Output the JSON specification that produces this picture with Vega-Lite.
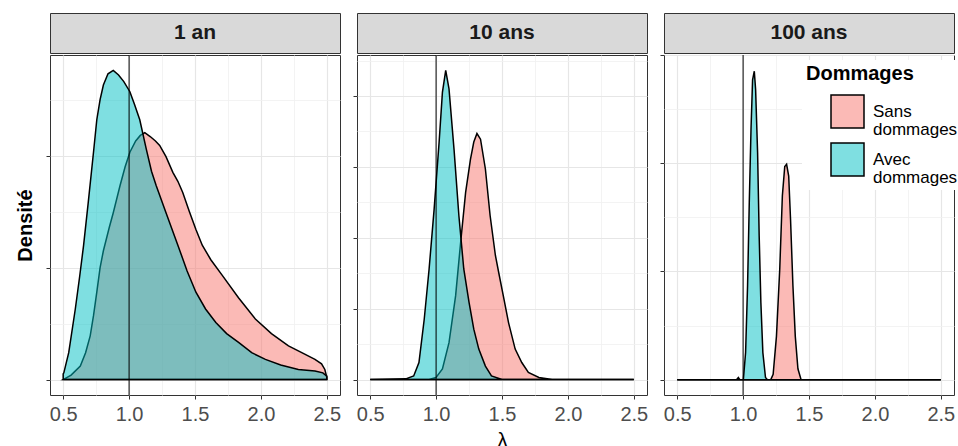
{
  "$schema": "https://vega.github.io/schema/vega-lite/v6.json",
  "background": "white",
  "padding": {"left": 15, "top": 12, "right": 0, "bottom": 0},
  "autosize": {"type": "pad"},
  "spacing": 10,
  "config": {
    "font": "Liberation Sans",
    "view": {"stroke": "#333333", "strokeWidth": 1},
    "axis": {
      "domain": false,
      "tickColor": "#333333",
      "tickSize": 4,
      "labelFont": "Liberation Sans",
      "labelFontSize": 20,
      "labelColor": "#4d4d4d",
      "titleFont": "Liberation Sans",
      "titleFontSize": 20,
      "titleFontWeight": "bold",
      "titleColor": "black",
      "gridColor": "#ebebeb"
    }
  },
  "datasets": {
    "dens": [
      {"panel":"1 an","Dommages":"Avec dommages","x":0.5,"y":0.05},
      {"panel":"1 an","Dommages":"Avec dommages","x":0.505,"y":0.06},
      {"panel":"1 an","Dommages":"Avec dommages","x":0.542,"y":0.24},
      {"panel":"1 an","Dommages":"Avec dommages","x":0.592,"y":0.63},
      {"panel":"1 an","Dommages":"Avec dommages","x":0.625,"y":0.92},
      {"panel":"1 an","Dommages":"Avec dommages","x":0.655,"y":1.2},
      {"panel":"1 an","Dommages":"Avec dommages","x":0.69,"y":1.58},
      {"panel":"1 an","Dommages":"Avec dommages","x":0.73,"y":2.03},
      {"panel":"1 an","Dommages":"Avec dommages","x":0.755,"y":2.32},
      {"panel":"1 an","Dommages":"Avec dommages","x":0.78,"y":2.5},
      {"panel":"1 an","Dommages":"Avec dommages","x":0.805,"y":2.63},
      {"panel":"1 an","Dommages":"Avec dommages","x":0.84,"y":2.73},
      {"panel":"1 an","Dommages":"Avec dommages","x":0.88,"y":2.76},
      {"panel":"1 an","Dommages":"Avec dommages","x":0.92,"y":2.72},
      {"panel":"1 an","Dommages":"Avec dommages","x":0.96,"y":2.66},
      {"panel":"1 an","Dommages":"Avec dommages","x":1.006,"y":2.57},
      {"panel":"1 an","Dommages":"Avec dommages","x":1.04,"y":2.46},
      {"panel":"1 an","Dommages":"Avec dommages","x":1.081,"y":2.32},
      {"panel":"1 an","Dommages":"Avec dommages","x":1.13,"y":2.06},
      {"panel":"1 an","Dommages":"Avec dommages","x":1.17,"y":1.86},
      {"panel":"1 an","Dommages":"Avec dommages","x":1.206,"y":1.73},
      {"panel":"1 an","Dommages":"Avec dommages","x":1.28,"y":1.49},
      {"panel":"1 an","Dommages":"Avec dommages","x":1.37,"y":1.2},
      {"panel":"1 an","Dommages":"Avec dommages","x":1.44,"y":0.97},
      {"panel":"1 an","Dommages":"Avec dommages","x":1.507,"y":0.78},
      {"panel":"1 an","Dommages":"Avec dommages","x":1.58,"y":0.63},
      {"panel":"1 an","Dommages":"Avec dommages","x":1.658,"y":0.51},
      {"panel":"1 an","Dommages":"Avec dommages","x":1.74,"y":0.41},
      {"panel":"1 an","Dommages":"Avec dommages","x":1.833,"y":0.33},
      {"panel":"1 an","Dommages":"Avec dommages","x":1.93,"y":0.24},
      {"panel":"1 an","Dommages":"Avec dommages","x":2.034,"y":0.18},
      {"panel":"1 an","Dommages":"Avec dommages","x":2.15,"y":0.13},
      {"panel":"1 an","Dommages":"Avec dommages","x":2.284,"y":0.09},
      {"panel":"1 an","Dommages":"Avec dommages","x":2.41,"y":0.077},
      {"panel":"1 an","Dommages":"Avec dommages","x":2.47,"y":0.06},
      {"panel":"1 an","Dommages":"Avec dommages","x":2.5,"y":0.03},
      {"panel":"1 an","Dommages":"Sans dommages","x":0.5,"y":0},
      {"panel":"1 an","Dommages":"Sans dommages","x":0.56,"y":0.04},
      {"panel":"1 an","Dommages":"Sans dommages","x":0.63,"y":0.12},
      {"panel":"1 an","Dommages":"Sans dommages","x":0.67,"y":0.24},
      {"panel":"1 an","Dommages":"Sans dommages","x":0.705,"y":0.39},
      {"panel":"1 an","Dommages":"Sans dommages","x":0.73,"y":0.57},
      {"panel":"1 an","Dommages":"Sans dommages","x":0.755,"y":0.78},
      {"panel":"1 an","Dommages":"Sans dommages","x":0.78,"y":1.0},
      {"panel":"1 an","Dommages":"Sans dommages","x":0.805,"y":1.15},
      {"panel":"1 an","Dommages":"Sans dommages","x":0.85,"y":1.36},
      {"panel":"1 an","Dommages":"Sans dommages","x":0.88,"y":1.49},
      {"panel":"1 an","Dommages":"Sans dommages","x":0.931,"y":1.73},
      {"panel":"1 an","Dommages":"Sans dommages","x":0.97,"y":1.9},
      {"panel":"1 an","Dommages":"Sans dommages","x":1.006,"y":2.03},
      {"panel":"1 an","Dommages":"Sans dommages","x":1.05,"y":2.13},
      {"panel":"1 an","Dommages":"Sans dommages","x":1.085,"y":2.18},
      {"panel":"1 an","Dommages":"Sans dommages","x":1.119,"y":2.205},
      {"panel":"1 an","Dommages":"Sans dommages","x":1.16,"y":2.17},
      {"panel":"1 an","Dommages":"Sans dommages","x":1.2,"y":2.13},
      {"panel":"1 an","Dommages":"Sans dommages","x":1.232,"y":2.09},
      {"panel":"1 an","Dommages":"Sans dommages","x":1.28,"y":1.99},
      {"panel":"1 an","Dommages":"Sans dommages","x":1.332,"y":1.85},
      {"panel":"1 an","Dommages":"Sans dommages","x":1.37,"y":1.77},
      {"panel":"1 an","Dommages":"Sans dommages","x":1.407,"y":1.67},
      {"panel":"1 an","Dommages":"Sans dommages","x":1.457,"y":1.5},
      {"panel":"1 an","Dommages":"Sans dommages","x":1.507,"y":1.34},
      {"panel":"1 an","Dommages":"Sans dommages","x":1.555,"y":1.2},
      {"panel":"1 an","Dommages":"Sans dommages","x":1.62,"y":1.07},
      {"panel":"1 an","Dommages":"Sans dommages","x":1.707,"y":0.93},
      {"panel":"1 an","Dommages":"Sans dommages","x":1.83,"y":0.73},
      {"panel":"1 an","Dommages":"Sans dommages","x":1.958,"y":0.54},
      {"panel":"1 an","Dommages":"Sans dommages","x":2.08,"y":0.41},
      {"panel":"1 an","Dommages":"Sans dommages","x":2.209,"y":0.3},
      {"panel":"1 an","Dommages":"Sans dommages","x":2.31,"y":0.24},
      {"panel":"1 an","Dommages":"Sans dommages","x":2.41,"y":0.18},
      {"panel":"1 an","Dommages":"Sans dommages","x":2.46,"y":0.14},
      {"panel":"1 an","Dommages":"Sans dommages","x":2.485,"y":0.09},
      {"panel":"1 an","Dommages":"Sans dommages","x":2.5,"y":0.02},

      {"panel":"10 ans","Dommages":"Avec dommages","x":0.5,"y":0},
      {"panel":"10 ans","Dommages":"Avec dommages","x":0.77,"y":0.01},
      {"panel":"10 ans","Dommages":"Avec dommages","x":0.83,"y":0.05},
      {"panel":"10 ans","Dommages":"Avec dommages","x":0.87,"y":0.24},
      {"panel":"10 ans","Dommages":"Avec dommages","x":0.91,"y":0.85},
      {"panel":"10 ans","Dommages":"Avec dommages","x":0.947,"y":1.56},
      {"panel":"10 ans","Dommages":"Avec dommages","x":0.985,"y":2.4},
      {"panel":"10 ans","Dommages":"Avec dommages","x":1.023,"y":3.35},
      {"panel":"10 ans","Dommages":"Avec dommages","x":1.048,"y":4.05},
      {"panel":"10 ans","Dommages":"Avec dommages","x":1.073,"y":4.36},
      {"panel":"10 ans","Dommages":"Avec dommages","x":1.098,"y":4.1},
      {"panel":"10 ans","Dommages":"Avec dommages","x":1.136,"y":3.25},
      {"panel":"10 ans","Dommages":"Avec dommages","x":1.173,"y":2.31},
      {"panel":"10 ans","Dommages":"Avec dommages","x":1.21,"y":1.56},
      {"panel":"10 ans","Dommages":"Avec dommages","x":1.25,"y":1.09},
      {"panel":"10 ans","Dommages":"Avec dommages","x":1.286,"y":0.71},
      {"panel":"10 ans","Dommages":"Avec dommages","x":1.324,"y":0.43},
      {"panel":"10 ans","Dommages":"Avec dommages","x":1.374,"y":0.19},
      {"panel":"10 ans","Dommages":"Avec dommages","x":1.42,"y":0.05},
      {"panel":"10 ans","Dommages":"Avec dommages","x":1.5,"y":0},
      {"panel":"10 ans","Dommages":"Avec dommages","x":2.5,"y":0},
      {"panel":"10 ans","Dommages":"Sans dommages","x":0.5,"y":0},
      {"panel":"10 ans","Dommages":"Sans dommages","x":0.947,"y":0},
      {"panel":"10 ans","Dommages":"Sans dommages","x":1.0,"y":0.03},
      {"panel":"10 ans","Dommages":"Sans dommages","x":1.048,"y":0.15},
      {"panel":"10 ans","Dommages":"Sans dommages","x":1.098,"y":0.52},
      {"panel":"10 ans","Dommages":"Sans dommages","x":1.148,"y":1.18},
      {"panel":"10 ans","Dommages":"Sans dommages","x":1.186,"y":1.93},
      {"panel":"10 ans","Dommages":"Sans dommages","x":1.224,"y":2.64},
      {"panel":"10 ans","Dommages":"Sans dommages","x":1.261,"y":3.11},
      {"panel":"10 ans","Dommages":"Sans dommages","x":1.286,"y":3.35},
      {"panel":"10 ans","Dommages":"Sans dommages","x":1.31,"y":3.47},
      {"panel":"10 ans","Dommages":"Sans dommages","x":1.337,"y":3.39},
      {"panel":"10 ans","Dommages":"Sans dommages","x":1.374,"y":2.97},
      {"panel":"10 ans","Dommages":"Sans dommages","x":1.41,"y":2.31},
      {"panel":"10 ans","Dommages":"Sans dommages","x":1.45,"y":1.75},
      {"panel":"10 ans","Dommages":"Sans dommages","x":1.475,"y":1.51},
      {"panel":"10 ans","Dommages":"Sans dommages","x":1.51,"y":1.18},
      {"panel":"10 ans","Dommages":"Sans dommages","x":1.55,"y":0.8},
      {"panel":"10 ans","Dommages":"Sans dommages","x":1.6,"y":0.43},
      {"panel":"10 ans","Dommages":"Sans dommages","x":1.65,"y":0.24},
      {"panel":"10 ans","Dommages":"Sans dommages","x":1.7,"y":0.1},
      {"panel":"10 ans","Dommages":"Sans dommages","x":1.78,"y":0.03},
      {"panel":"10 ans","Dommages":"Sans dommages","x":1.88,"y":0},
      {"panel":"10 ans","Dommages":"Sans dommages","x":2.5,"y":0},

      {"panel":"100 ans","Dommages":"Avec dommages","x":0.5,"y":0},
      {"panel":"100 ans","Dommages":"Avec dommages","x":0.95,"y":0},
      {"panel":"100 ans","Dommages":"Avec dommages","x":0.964,"y":0.1},
      {"panel":"100 ans","Dommages":"Avec dommages","x":0.975,"y":0},
      {"panel":"100 ans","Dommages":"Avec dommages","x":1.002,"y":0},
      {"panel":"100 ans","Dommages":"Avec dommages","x":1.019,"y":1.25},
      {"panel":"100 ans","Dommages":"Avec dommages","x":1.034,"y":4.35},
      {"panel":"100 ans","Dommages":"Avec dommages","x":1.047,"y":8.2},
      {"panel":"100 ans","Dommages":"Avec dommages","x":1.06,"y":11.55},
      {"panel":"100 ans","Dommages":"Avec dommages","x":1.072,"y":13.85},
      {"panel":"100 ans","Dommages":"Avec dommages","x":1.085,"y":14.25},
      {"panel":"100 ans","Dommages":"Avec dommages","x":1.095,"y":13.4},
      {"panel":"100 ans","Dommages":"Avec dommages","x":1.11,"y":10.5},
      {"panel":"100 ans","Dommages":"Avec dommages","x":1.122,"y":6.65},
      {"panel":"100 ans","Dommages":"Avec dommages","x":1.135,"y":3.55},
      {"panel":"100 ans","Dommages":"Avec dommages","x":1.15,"y":1.25},
      {"panel":"100 ans","Dommages":"Avec dommages","x":1.17,"y":0.1},
      {"panel":"100 ans","Dommages":"Avec dommages","x":1.185,"y":0},
      {"panel":"100 ans","Dommages":"Avec dommages","x":2.5,"y":0},
      {"panel":"100 ans","Dommages":"Sans dommages","x":0.5,"y":0},
      {"panel":"100 ans","Dommages":"Sans dommages","x":1.21,"y":0},
      {"panel":"100 ans","Dommages":"Sans dommages","x":1.228,"y":0.25},
      {"panel":"100 ans","Dommages":"Sans dommages","x":1.253,"y":2.0},
      {"panel":"100 ans","Dommages":"Sans dommages","x":1.278,"y":5.1},
      {"panel":"100 ans","Dommages":"Sans dommages","x":1.298,"y":8.5},
      {"panel":"100 ans","Dommages":"Sans dommages","x":1.316,"y":9.85},
      {"panel":"100 ans","Dommages":"Sans dommages","x":1.33,"y":9.95},
      {"panel":"100 ans","Dommages":"Sans dommages","x":1.346,"y":9.4},
      {"panel":"100 ans","Dommages":"Sans dommages","x":1.36,"y":7.4},
      {"panel":"100 ans","Dommages":"Sans dommages","x":1.378,"y":4.35},
      {"panel":"100 ans","Dommages":"Sans dommages","x":1.396,"y":2.0},
      {"panel":"100 ans","Dommages":"Sans dommages","x":1.416,"y":0.5},
      {"panel":"100 ans","Dommages":"Sans dommages","x":1.44,"y":0},
      {"panel":"100 ans","Dommages":"Sans dommages","x":2.5,"y":0}
    ]
  },
  "resolve": {"scale": {"x": "independent", "y": "independent", "color": "shared"}},
  "hconcat": [
    {
      "spacing": 0,
      "vconcat": [
        {
          "width": 290, "height": 40,
          "view": {"fill": "#d9d9d9", "stroke": "#333333"},
          "data": {"values": [{"label": "1 an"}]},
          "mark": {"type": "text", "fontSize": 21, "fontWeight": "bold", "color": "#1a1a1a", "baseline": "middle"},
          "encoding": {"text": {"field": "label", "type": "nominal"}}
        },
        {
          "width": 290, "height": 340,
          "data": {"name": "dens"},
          "transform": [{"filter": "datum.panel === '1 an'"}],
          "encoding": {
            "x": {"field": "x", "type": "quantitative", "scale": {"domain": [0.4, 2.6], "nice": false, "zero": false},
              "axis": {"title": null, "values": [0.5,0.75,1,1.25,1.5,1.75,2,2.25,2.5], "labelExpr": "(datum.value*2) % 1 === 0 ? format(datum.value, '.1f') : ''", "labelOverlap": false, "labelFlush": false, "labelPadding": 5,
                "tickColor": {"condition": {"test": "(datum.value*2) % 1 === 0", "value": "#333333"}, "value": "transparent"},
                "gridColor": {"condition": {"test": "(datum.value*2) % 1 === 0", "value": "#e6e6e6"}, "value": "#f0f0f0"},
                "gridWidth": {"condition": {"test": "(datum.value*2) % 1 === 0", "value": 1.2}, "value": 0.8}}},
            "y": {"field": "y", "type": "quantitative", "scale": {"domain": [-0.138, 2.898], "nice": false, "zero": false},
              "axis": {"title": "Densité", "titlePadding": 10, "labels": false, "values": [0,0.5,1,1.5,2,2.5],
                "tickColor": {"condition": {"test": "datum.value % 1 === 0", "value": "#333333"}, "value": "transparent"},
                "gridColor": {"condition": {"test": "datum.value % 1 === 0", "value": "#e6e6e6"}, "value": "#f0f0f0"},
                "gridWidth": {"condition": {"test": "datum.value % 1 === 0", "value": 1.2}, "value": 0.8}}},
            "y2": {"datum": 0}
          },
          "layer": [
            {"transform": [{"filter": "datum.Dommages === 'Sans dommages'"}],
             "mark": {"type": "area", "fillOpacity": 0.5, "stroke": "black", "strokeWidth": 1.5},
             "encoding": {"color": {"field": "Dommages", "type": "nominal", "scale": {"domain": ["Sans dommages", "Avec dommages"], "range": ["#F8766D", "#00BFC4"]},
               "legend": {"orient": "none", "legendX": 752, "legendY": 47, "title": "Dommages", "titleFontSize": 20, "titleFontWeight": "bold", "titleColor": "black", "titleFont": "Liberation Sans", "titlePadding": 10,
                 "labelFont": "Liberation Sans", "labelFontSize": 17, "labelColor": "black", "labelExpr": "split(datum.label, ' ')", "labelLimit": 200, "labelOffset": 8,
                 "symbolType": "square", "symbolSize": 1089, "symbolStrokeColor": "black", "symbolStrokeWidth": 1.5, "symbolOffset": 24, "rowPadding": 2, "fillColor": "white", "padding": 4,
                 "encode": {"symbols": {"update": {"fillOpacity": {"value": 0.5}, "strokeOpacity": {"value": 1}}}, "labels": {"update": {"lineHeight": {"value": 18}}}}}}}},
            {"transform": [{"filter": "datum.Dommages === 'Avec dommages'"}],
             "mark": {"type": "area", "fillOpacity": 0.5, "stroke": "black", "strokeWidth": 1.5},
             "encoding": {"color": {"field": "Dommages", "type": "nominal"}}},
            {"data": {"values": [{"ref": 1}]},
             "mark": {"type": "rule", "color": "black", "strokeWidth": 1},
             "encoding": {"x": {"field": "ref", "type": "quantitative"}, "y": null, "y2": null}}
          ]
        }
      ]
    },
    {
      "spacing": 0,
      "vconcat": [
        {
          "width": 290, "height": 40,
          "view": {"fill": "#d9d9d9", "stroke": "#333333"},
          "data": {"values": [{"label": "10  ans"}]},
          "mark": {"type": "text", "fontSize": 21, "fontWeight": "bold", "color": "#1a1a1a", "baseline": "middle"},
          "encoding": {"text": {"field": "label", "type": "nominal"}}
        },
        {
          "width": 290, "height": 340,
          "data": {"name": "dens"},
          "transform": [{"filter": "datum.panel === '10 ans'"}],
          "encoding": {
            "x": {"field": "x", "type": "quantitative", "scale": {"domain": [0.4, 2.6], "nice": false, "zero": false},
              "axis": {"title": "λ", "titleFontWeight": "normal", "titlePadding": 6, "values": [0.5,0.75,1,1.25,1.5,1.75,2,2.25,2.5], "labelExpr": "(datum.value*2) % 1 === 0 ? format(datum.value, '.1f') : ''", "labelOverlap": false, "labelFlush": false, "labelPadding": 5,
                "tickColor": {"condition": {"test": "(datum.value*2) % 1 === 0", "value": "#333333"}, "value": "transparent"},
                "gridColor": {"condition": {"test": "(datum.value*2) % 1 === 0", "value": "#e6e6e6"}, "value": "#f0f0f0"},
                "gridWidth": {"condition": {"test": "(datum.value*2) % 1 === 0", "value": 1.2}, "value": 0.8}}},
            "y": {"field": "y", "type": "quantitative", "scale": {"domain": [-0.218, 4.578], "nice": false, "zero": false},
              "axis": {"title": null, "labels": false, "values": [0,0.5,1,1.5,2,2.5,3,3.5,4,4.5],
                "tickColor": {"condition": {"test": "datum.value % 1 === 0", "value": "#333333"}, "value": "transparent"},
                "gridColor": {"condition": {"test": "datum.value % 1 === 0", "value": "#e6e6e6"}, "value": "#f0f0f0"},
                "gridWidth": {"condition": {"test": "datum.value % 1 === 0", "value": 1.2}, "value": 0.8}}},
            "y2": {"datum": 0}
          },
          "layer": [
            {"transform": [{"filter": "datum.Dommages === 'Sans dommages'"}],
             "mark": {"type": "area", "fillOpacity": 0.5, "stroke": "black", "strokeWidth": 1.5},
             "encoding": {"color": {"field": "Dommages", "type": "nominal"}}},
            {"transform": [{"filter": "datum.Dommages === 'Avec dommages'"}],
             "mark": {"type": "area", "fillOpacity": 0.5, "stroke": "black", "strokeWidth": 1.5},
             "encoding": {"color": {"field": "Dommages", "type": "nominal"}}},
            {"data": {"values": [{"ref": 1}]},
             "mark": {"type": "rule", "color": "black", "strokeWidth": 1},
             "encoding": {"x": {"field": "ref", "type": "quantitative"}, "y": null, "y2": null}}
          ]
        }
      ]
    },
    {
      "spacing": 0,
      "vconcat": [
        {
          "width": 290, "height": 40,
          "view": {"fill": "#d9d9d9", "stroke": "#333333"},
          "data": {"values": [{"label": "100 ans"}]},
          "mark": {"type": "text", "fontSize": 21, "fontWeight": "bold", "color": "#1a1a1a", "baseline": "middle"},
          "encoding": {"text": {"field": "label", "type": "nominal"}}
        },
        {
          "width": 290, "height": 340,
          "data": {"name": "dens"},
          "transform": [{"filter": "datum.panel === '100 ans'"}],
          "encoding": {
            "x": {"field": "x", "type": "quantitative", "scale": {"domain": [0.4, 2.6], "nice": false, "zero": false},
              "axis": {"title": null, "values": [0.5,0.75,1,1.25,1.5,1.75,2,2.25,2.5], "labelExpr": "(datum.value*2) % 1 === 0 ? format(datum.value, '.1f') : ''", "labelOverlap": false, "labelFlush": false, "labelPadding": 5,
                "tickColor": {"condition": {"test": "(datum.value*2) % 1 === 0", "value": "#333333"}, "value": "transparent"},
                "gridColor": {"condition": {"test": "(datum.value*2) % 1 === 0", "value": "#e6e6e6"}, "value": "#f0f0f0"},
                "gridWidth": {"condition": {"test": "(datum.value*2) % 1 === 0", "value": 1.2}, "value": 0.8}}},
            "y": {"field": "y", "type": "quantitative", "scale": {"domain": [-0.71, 15], "nice": false, "zero": false},
              "axis": {"title": null, "labels": false, "values": [0,2.5,5,7.5,10,12.5,15],
                "tickColor": {"condition": {"test": "datum.value % 5 === 0", "value": "#333333"}, "value": "transparent"},
                "gridColor": {"condition": {"test": "datum.value % 5 === 0", "value": "#e6e6e6"}, "value": "#f0f0f0"},
                "gridWidth": {"condition": {"test": "datum.value % 5 === 0", "value": 1.2}, "value": 0.8}}},
            "y2": {"datum": 0}
          },
          "layer": [
            {"transform": [{"filter": "datum.Dommages === 'Sans dommages'"}],
             "mark": {"type": "area", "fillOpacity": 0.5, "stroke": "black", "strokeWidth": 1.5},
             "encoding": {"color": {"field": "Dommages", "type": "nominal"}}},
            {"transform": [{"filter": "datum.Dommages === 'Avec dommages'"}],
             "mark": {"type": "area", "fillOpacity": 0.5, "stroke": "black", "strokeWidth": 1.5},
             "encoding": {"color": {"field": "Dommages", "type": "nominal"}}},
            {"data": {"values": [{"ref": 1}]},
             "mark": {"type": "rule", "color": "black", "strokeWidth": 1},
             "encoding": {"x": {"field": "ref", "type": "quantitative"}, "y": null, "y2": null}}
          ]
        }
      ]
    }
  ]
}
